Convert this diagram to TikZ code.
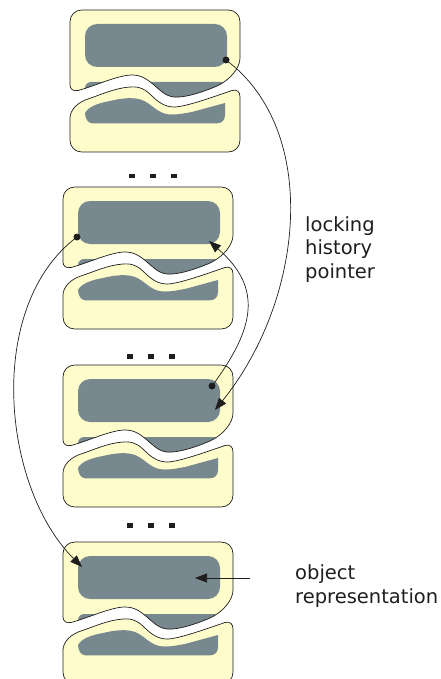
\documentclass[tikz,border=0pt]{standalone}
\usepackage{fontspec}
\setmainfont{DejaVu Sans}
\usetikzlibrary{arrows.meta}

\definecolor{paper}{RGB}{255,252,204}
\definecolor{slate}{RGB}{120,136,143}
\definecolor{ink}{RGB}{30,30,30}

% outlines of one record (local coordinates, y grows downwards)
\newcommand\upperoutline{(0,12) .. controls (0,5) and (5,0) .. (12,0) -- (158,0)
  .. controls (165,0) and (170,5) .. (170,12) -- (170,48)
  .. controls (170,58) and (160,70) .. (147,76)
  .. controls (133,82) and (115,88) .. (104,87)
  .. controls (95,86) and (90,80) .. (84,75)
  .. controls (78,70) and (72,65) .. (62,65)
  .. controls (48,65) and (25,76) .. (8,80.5)
  .. controls (3,81.5) and (0,79) .. (0,75) -- cycle}
\newcommand\loweroutline{(0,108) .. controls (0,100) and (8,92) .. (18,89)
  .. controls (30,85) and (45,78) .. (60,77)
  .. controls (70,76) and (76,80) .. (82,86)
  .. controls (88,92) and (95,97) .. (104,97)
  .. controls (115,97) and (140,88) .. (162,80.5)
  .. controls (167,79) and (170,82) .. (170,87) -- (170,130)
  .. controls (170,137) and (165,142) .. (158,142) -- (12,142)
  .. controls (5,142) and (0,137) .. (0,130) -- cycle}
\newcommand\lowercore{(15,103) .. controls (18,97) and (28,93) .. (40,91)
  .. controls (52,88) and (64,87) .. (72,90)
  .. controls (80,93) and (85,100) .. (93,103)
  .. controls (100,106) and (112,104) .. (123,101.7) -- (155,93) -- (155,105)
  .. controls (155,110) and (152,113.3) .. (147,113.3) -- (22,113.3)
  .. controls (18,113.3) and (15,108) .. (15,103) -- cycle}

\tikzset{
  x=1pt, y=-1pt,
  piece/.style={fill=paper, draw=ink, line width=0.7pt},
  core/.style={fill=slate},
  link/.style={draw=ink, line width=0.7pt, -{Triangle[length=12pt,width=9pt]}},
  knob/.style={fill=ink},
  gapmark/.style={fill=ink},
  caption/.style={font=\fontsize{19.5}{23.5}\selectfont, text=ink, align=left, inner sep=0pt},
  pics/record/.style={code={
    \fill[paper] \upperoutline;
    \begin{scope}
      \clip \upperoutline;
      \fill[core, rounded corners=6pt] (15,72) rectangle (157,125);
    \end{scope}
    \fill[core, rounded corners=12pt] (15,14) rectangle (157,57);
    \draw[draw=ink, line width=0.7pt] \upperoutline;
    \filldraw[piece] \loweroutline;
    \fill[core] \lowercore;
  }},
  pics/ellipsis/.style={code={
    \fill[gapmark] (-24,-2.2) rectangle (-18,2.2);
    \fill[gapmark] (-3,-2.2) rectangle (3,2.2);
    \fill[gapmark] (18,-2.2) rectangle (24,2.2);
  }}
}

\begin{document}
\begin{tikzpicture}
\useasboundingbox (0,0) rectangle (441,679);
\clip (0,0) rectangle (441,679);

% the four records
\pic (r1) at (70,10) {record};
\pic (r2) at (63,187) {record};
\pic (r3) at (63,365) {record};
\pic (r4) at (63,542) {record};

% elided records in between
\pic (e1) at (153,176) {ellipsis};
\pic (e2) at (151,356.5) {ellipsis};
\pic (e3) at (151,525.5) {ellipsis};

% pointer ends
\coordinate (d1) at (226,60);
\coordinate (t3) at (215,410);
\coordinate (d3) at (212,386);
\coordinate (t2) at (209,241);
\coordinate (d2) at (77,237);
\coordinate (t4) at (82,567);
\coordinate (objtail) at (250,578);
\coordinate (objtip) at (195,578);

% locking history pointers
\draw[link] (d1) .. controls (321,131) and (304,300) .. (t3);
\draw[link] (d3) .. controls (255,328) and (263,288) .. (t2);
\draw[link] (d2) .. controls (-15,306) and (1.5,486.5) .. (t4);
\draw[link] (objtail) -- (objtip);

\fill[knob] (d1) circle (3.5pt);
\fill[knob] (d3) circle (3.5pt);
\fill[knob] (d2) circle (3.5pt);

% labels (anchored at the baseline of their last line)
\node[caption, anchor=base west] (hist) at (305,278) {locking\\history\\pointer};
\node[caption, anchor=base west] (obj) at (295,603) {object\\representation};
\end{tikzpicture}
\end{document}
